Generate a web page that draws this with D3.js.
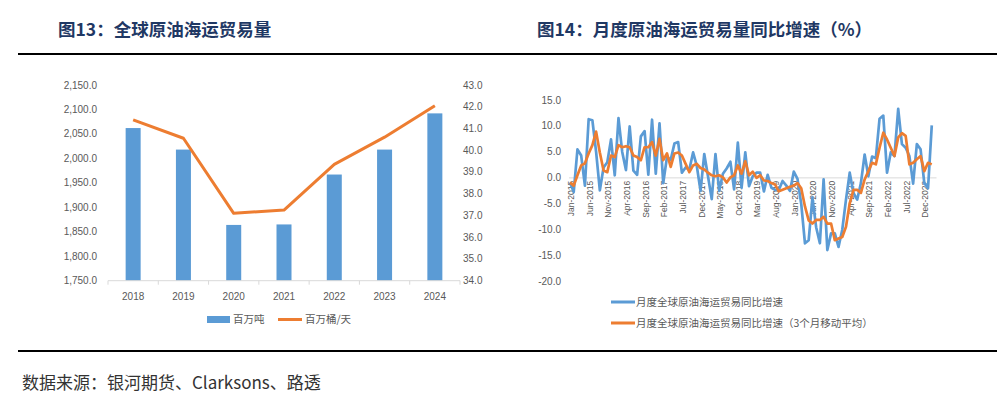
<!DOCTYPE html>
<html><head><meta charset="utf-8">
<script src="https://cdn.jsdelivr.net/npm/d3@7"></script>
<style>
body{margin:0;background:#fff;}
svg{display:block;}
</style></head>
<body>
<svg id="c" width="1007" height="404"></svg>
<script>
// ---------- Data: left chart ----------
const years = ["2018","2019","2020","2021","2022","2023","2024"];
const tonnes = [2062, 2018, 1864, 1865, 1967, 2018, 2092];        // 百万吨
const barrels = [41.4, 40.55, 37.1, 37.25, 39.35, 40.6, 42.05];   // 百万桶/天
const leftTicks = [1750,1800,1850,1900,1950,2000,2050,2100,2150];
const rightTicks = [34,35,36,37,38,39,40,41,42,43];

// ---------- Data: right chart (Jan-2015 .. Feb-2023) ----------
const monthStart = new Date(2015,0,1), monthEnd = new Date(2023,2,1);
const yoy = [
 -0.9,-2.7,5.5,4.3,-1.5,11.3,11.1,5,-2.4,2,3,7.4,
 0.5,11.5,5,1.5,9.9,1.4,0.6,8,9,0.6,11.2,0.8,
 10.5,-1,4,3.5,6.6,6.9,1,2,1.6,4.9,2.3,-2.5,
 4.6,0.3,-4.1,4.6,-2.5,0.8,1.8,3.1,-2.2,6.8,-1.9,4.9,
 -1.6,0.3,1,1,-2.6,0.6,-1.9,-2.3,-2.3,-0.6,-1.5,-2.5,
 1.2,-0.2,-5,-12.6,-12,-3.8,-9.5,-12.6,-0.3,-13.9,-10.7,-10.7,
 -13.3,-10,-4.2,1,-2.9,-4.2,-1,4.5,0.3,4.1,3.8,11.4,
 12,1,4.9,4.2,13.3,6.5,5.8,4.2,-1.1,6.5,5.5,-1,
 -2,10.1
];
const yoy3m = [
 -0.9,-1.5,0.5,2.4,2.8,4.7,6.3,8.9,4.9,1.4,1.1,4.3,
 4,6.3,5.9,6.1,5.9,4.3,4,3.4,5.9,5.9,6.9,4.3,
 7.5,3.4,4.7,2.1,4.7,4.9,4.3,2.7,1.1,2.4,2.7,1.9,
 1.6,1,0.5,0.3,0.5,0.1,-0.9,0.1,0.5,2.4,0.8,3.2,
 0.5,1.2,0,0.5,-0.5,-0.6,-1,-1.3,-2.6,-2.3,-2,-1.7,
 -1.5,-1,-2,-5.5,-8.2,-8.8,-8.1,-8.1,-7.5,-8.8,-8.8,-12,
 -11.7,-11.4,-9.4,-4.9,-2.3,-2.3,-2.9,-0.3,1.3,2.9,2.6,5.8,
 8.7,7.4,5.8,4.2,7.8,8.6,8.1,2.6,2.9,3.6,4.2,1.3,
 2.9,2.6
];
const monthTickLabels = ["Jan-2015","Jun-2015","Nov-2015","Apr-2016","Sep-2016","Feb-2017","Jul-2017","Dec-2017","May-2018","Oct-2018","Mar-2019","Aug-2019","Jan-2020","Jun-2020","Nov-2020","Apr-2021","Sep-2021","Feb-2022","Jul-2022","Dec-2022"];
const yoyTicks = [15,10,5,0,-5,-10,-15,-20];

const BLUE = "#5B9BD5", ORANGE = "#ED7D31", AXIS = "#D9D9D9", LABEL = "#595959", NAVY = "#1F3864";
const LATIN = "'Liberation Sans', Arial, sans-serif";
const CJK = "'Noto Sans CJK SC', sans-serif";

const svg = d3.select("#c");

// ---------- Titles & rules ----------
svg.append("text").attr("x",58).attr("y",36).attr("font-family",CJK).attr("font-weight",700)
  .attr("font-size",17.5).attr("fill",NAVY).text("图13：全球原油海运贸易量");
svg.append("text").attr("x",537).attr("y",36).attr("font-family",CJK).attr("font-weight",700)
  .attr("font-size",17.5).attr("fill",NAVY).text("图14：月度原油海运贸易量同比增速（%）");
svg.append("line").attr("x1",18).attr("x2",997).attr("y1",54).attr("y2",54).attr("stroke","#000").attr("stroke-width",2);
svg.append("line").attr("x1",18).attr("x2",997).attr("y1",351).attr("y2",351).attr("stroke","#000").attr("stroke-width",2);
svg.append("text").attr("x",22).attr("y",389).attr("font-family",CJK).attr("font-size",17)
  .attr("fill","#333").text("数据来源：银河期货、Clarksons、路透");

// ---------- Left chart ----------
const L = {x0:108, x1:460, yTop:85, yBot:280.7};
const xc = d3.scaleBand().domain(years).range([L.x0,L.x1]);
const yl = d3.scaleLinear().domain([1750,2150]).range([L.yBot,L.yTop]);
const yr = d3.scaleLinear().domain([34,43]).range([L.yBot,L.yTop]);

const gL = svg.append("g");
gL.selectAll("rect.bar").data(years).join("rect").attr("class","bar")
  .attr("x",d=>xc(d)+xc.bandwidth()/2-7.5).attr("width",15)
  .attr("y",(d,i)=>yl(tonnes[i])).attr("height",(d,i)=>yl(1750)-yl(tonnes[i]))
  .attr("fill",BLUE);

// x axis line + category separators
gL.append("line").attr("x1",L.x0).attr("x2",L.x1).attr("y1",L.yBot).attr("y2",L.yBot).attr("stroke",AXIS).attr("stroke-width",1);
gL.selectAll("line.sep").data(years.concat(["end"])).join("line").attr("class","sep")
  .attr("x1",(d,i)=>L.x0+i*xc.step()).attr("x2",(d,i)=>L.x0+i*xc.step())
  .attr("y1",L.yBot).attr("y2",L.yBot+4).attr("stroke",AXIS);
gL.selectAll("text.yr").data(years).join("text").attr("class","yr")
  .attr("x",d=>xc(d)+xc.bandwidth()/2).attr("y",300).attr("text-anchor","middle")
  .attr("font-family",LATIN).attr("font-size",10).attr("fill",LABEL).text(d=>d);

const fmtL = d3.format(",.1f");
gL.selectAll("text.yl").data(leftTicks).join("text").attr("class","yl")
  .attr("x",97).attr("y",d=>yl(d)).attr("dy","0.35em").attr("text-anchor","end")
  .attr("font-family",LATIN).attr("font-size",10).attr("fill",LABEL).text(d=>fmtL(d));
gL.selectAll("text.yr2").data(rightTicks).join("text").attr("class","yr2")
  .attr("x",463).attr("y",d=>yr(d)).attr("dy","0.35em").attr("text-anchor","start")
  .attr("font-family",LATIN).attr("font-size",10).attr("fill",LABEL).text(d=>d.toFixed(1));

const lineL = d3.line().x((d,i)=>xc(years[i])+xc.bandwidth()/2).y(d=>yr(d));
gL.append("path").datum(barrels).attr("d",lineL).attr("fill","none").attr("stroke",ORANGE)
  .attr("stroke-width",3).attr("stroke-linejoin","round");

// left legend
gL.append("rect").attr("x",207).attr("y",316).attr("width",23).attr("height",7).attr("fill",BLUE);
gL.append("text").attr("x",233).attr("y",323).attr("font-family",CJK).attr("font-size",10.5).attr("fill",LABEL).text("百万吨");
gL.append("line").attr("x1",278).attr("x2",302).attr("y1",319.5).attr("y2",319.5).attr("stroke",ORANGE).attr("stroke-width",3);
gL.append("text").attr("x",305).attr("y",323).attr("font-family",CJK).attr("font-size",10.5).attr("fill",LABEL).text("百万桶/天");

// ---------- Right chart ----------
const months = d3.timeMonth.range(monthStart, monthEnd.getTime()+1);
const R = {x0:570, x1:935.5, yTop:100, yBot:281.7};
const xm = d3.scaleLinear().domain([0,months.length-1]).range([R.x0,R.x1]);
const ym = d3.scaleLinear().domain([-20,15]).range([R.yBot,R.yTop]);
const gR = svg.append("g");

gR.selectAll("text.ym").data(yoyTicks).join("text").attr("class","ym")
  .attr("x",561).attr("y",d=>ym(d)).attr("dy","0.35em").attr("text-anchor","end")
  .attr("font-family",LATIN).attr("font-size",10).attr("fill",LABEL).text(d=>d.toFixed(1));

gR.append("line").attr("x1",R.x0-1).attr("x2",R.x1+1).attr("y1",ym(0)).attr("y2",ym(0)).attr("stroke",AXIS).attr("stroke-width",1);

gR.selectAll("text.mt").data(monthTickLabels).join("text").attr("class","mt")
  .attr("transform",(d,i)=>`translate(${xm(i*5)+1},${ym(0)+3}) rotate(-90)`)
  .attr("dy","0.35em").attr("text-anchor","end")
  .attr("font-family",LATIN).attr("font-size",8.5).attr("fill",LABEL).text(d=>d);

const lineR = d3.line().x((d,i)=>xm(i)).y(d=>ym(d));
gR.append("path").datum(yoy).attr("d",lineR).attr("fill","none").attr("stroke",BLUE)
  .attr("stroke-width",2.7).attr("stroke-linejoin","round");
gR.append("path").datum(yoy3m).attr("d",lineR).attr("fill","none").attr("stroke",ORANGE)
  .attr("stroke-width",2.7).attr("stroke-linejoin","round");

// right legend
gR.append("line").attr("x1",611).attr("x2",635).attr("y1",302).attr("y2",302).attr("stroke",BLUE).attr("stroke-width",3);
gR.append("text").attr("x",636).attr("y",306).attr("font-family",CJK).attr("font-size",10.5).attr("fill",LABEL).text("月度全球原油海运贸易同比增速");
gR.append("line").attr("x1",611).attr("x2",635).attr("y1",323).attr("y2",323).attr("stroke",ORANGE).attr("stroke-width",3);
gR.append("text").attr("x",636).attr("y",327).attr("font-family",CJK).attr("font-size",10.5).attr("fill",LABEL).text("月度全球原油海运贸易同比增速（3个月移动平均）");
</script>
</body></html>
